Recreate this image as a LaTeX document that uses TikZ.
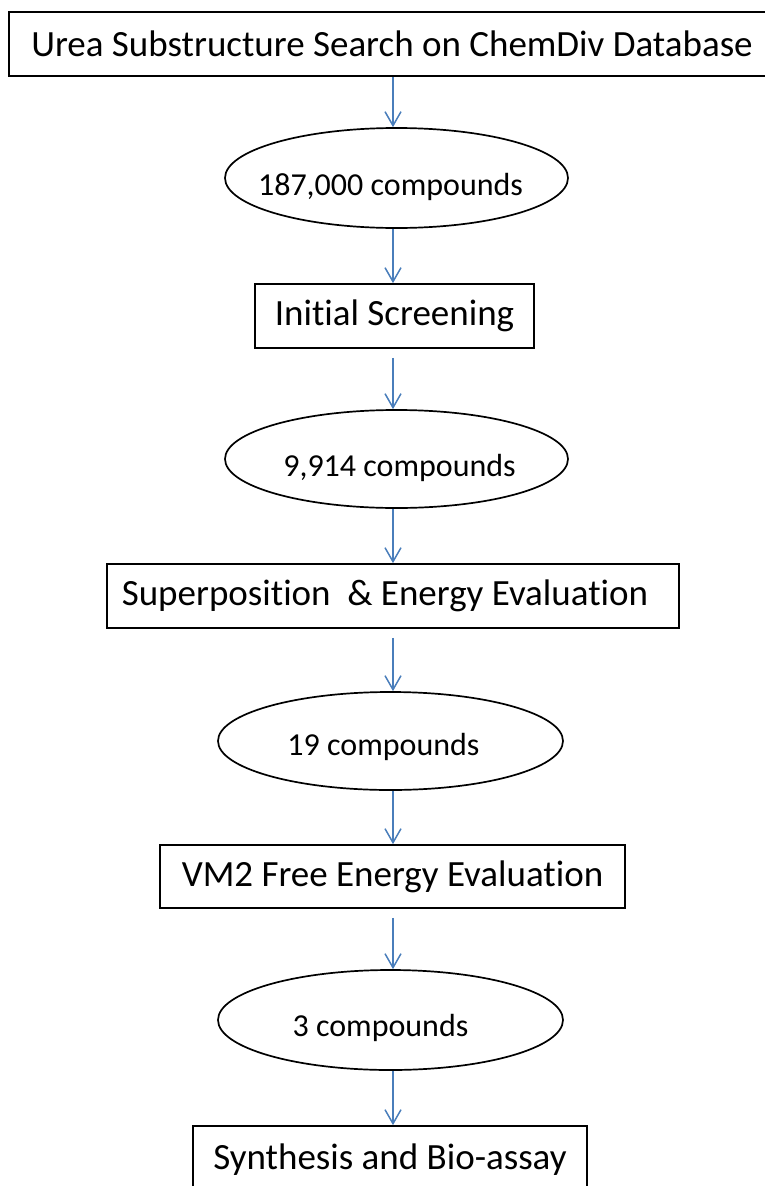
\documentclass[tikz,border=0pt]{standalone}
\usepackage{fontspec}
\setmainfont{Carlito}[Ligatures=NoCommon]
\usetikzlibrary{arrows.meta,shapes.geometric}
\definecolor{arrblue}{HTML}{4A7EBB}
\begin{document}
\begin{tikzpicture}[x=1pt,y=-1pt,
  stepbox/.style={draw=black,line width=1.7pt,rectangle,inner sep=0pt,font=\fontsize{37}{40}\selectfont},
  oval/.style={draw=black,line width=1.7pt,ellipse,inner sep=0pt},
  ovaltext/.style={font=\fontsize{32}{36}\selectfont,inner sep=0pt},
  arr/.style={draw=arrblue,line width=1.5pt,-{Straight Barb[length=14pt,width=16pt,line width=1.5pt]}}]
\useasboundingbox (0,0) rectangle (764,1186);
\coordinate (ax) at (393,0);
\node[stepbox,minimum width=766pt,minimum height=64pt] (b1) at (392,44) {Urea Substructure Search on ChemDiv Database};
\node[oval,minimum width=343pt,minimum height=100pt,
  label={[ovaltext,name=t1,xshift=-6pt,yshift=-9pt]center:187,000 compounds}] (e1) at (396.5,178) {};
\node[stepbox,minimum width=279pt,minimum height=64pt] (b2) at (394.5,316) {Initial Screening};
\node[oval,minimum width=343pt,minimum height=98pt,
  label={[ovaltext,name=t2,xshift=3pt,yshift=-9pt]center:9,914 compounds}] (e2) at (396.5,459) {};
\node[stepbox,minimum width=572pt,minimum height=64pt,
  label={[font=\fontsize{37}{40}\selectfont,inner sep=0pt,name=t3,xshift=-8pt]center:Superposition\ \ \& Energy Evaluation}] (b3) at (393,596) {};
\node[oval,minimum width=345pt,minimum height=98pt,
  label={[ovaltext,name=t4,xshift=-7pt,yshift=-6pt]center:19 compounds}] (e3) at (390.5,741) {};
\node[stepbox,minimum width=465pt,minimum height=63pt] (b4) at (392.5,876.5) {VM2 Free Energy Evaluation};
\node[oval,minimum width=345pt,minimum height=100pt,
  label={[ovaltext,name=t5,xshift=-10pt,yshift=-8pt]center:3 compounds}] (e4) at (390.5,1020) {};
\node[stepbox,minimum width=394pt,minimum height=68pt] (b5) at (390,1160) {Synthesis and Bio-assay};
\draw[arr] (b1.south -| ax) -- (e1.north -| ax);
\draw[arr] (e1.south -| ax) -- (b2.north -| ax);
\draw[arr,shorten <=9pt] (b2.south -| ax) -- (e2.north -| ax);
\draw[arr] (e2.south -| ax) -- (b3.north -| ax);
\draw[arr,shorten <=9pt] (b3.south -| ax) -- (e3.north -| ax);
\draw[arr] (e3.south -| ax) -- (b4.north -| ax);
\draw[arr,shorten <=9pt] (b4.south -| ax) -- (e4.north -| ax);
\draw[arr] (e4.south -| ax) -- (b5.north -| ax);
\end{tikzpicture}
\end{document}
